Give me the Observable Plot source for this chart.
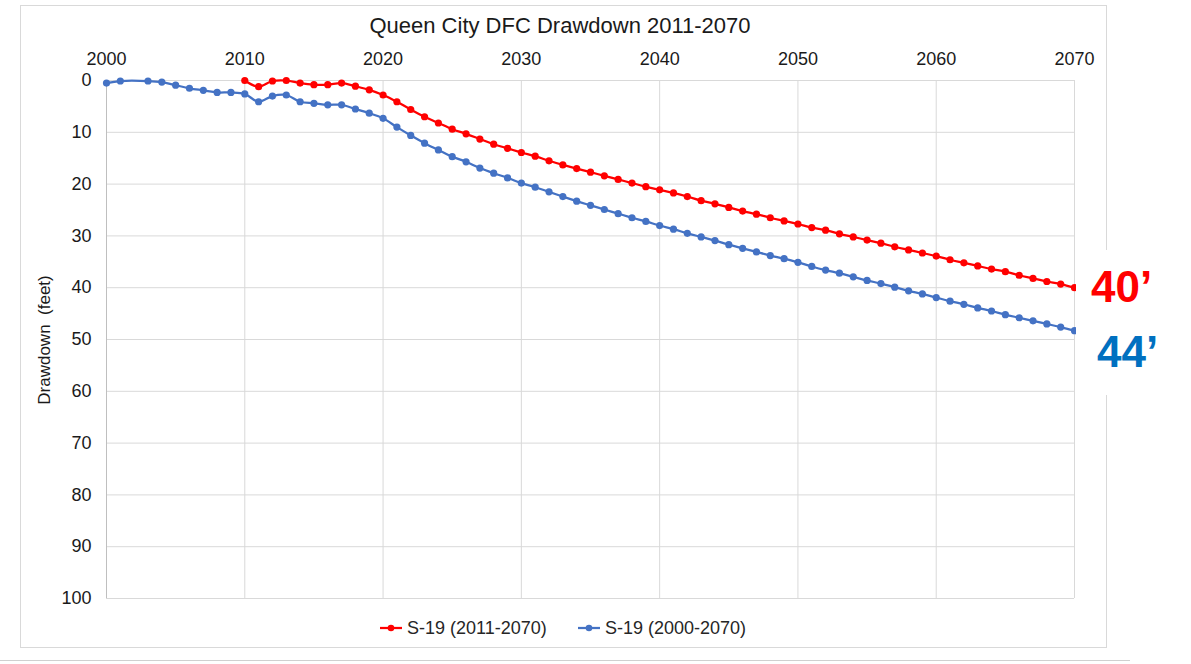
<!DOCTYPE html>
<html>
<head>
<meta charset="utf-8">
<script src="https://cdn.jsdelivr.net/npm/d3@7"></script>
<script src="https://cdn.jsdelivr.net/npm/@observablehq/plot@0.6"></script>
<style>
  html, body { margin: 0; padding: 0; background: #fff; }
  #wrap { position: relative; width: 1191px; height: 664px; overflow: hidden; font-family: "Liberation Sans", Arial, sans-serif; color: #404040; }
  #frame { position: absolute; left: 20px; top: 5px; width: 1087px; height: 643px; border: 1px solid #d9d9d9; box-sizing: border-box; }
  #slideLine { position: absolute; left: 0; top: 660px; width: 1130px; height: 0; border-top: 1px solid #d0d0d0; }
  #chart { position: absolute; left: 0; top: 0; }
  #title { position: absolute; left: 0; width: 1120px; top: 14px; text-align: center; font-size: 22px; line-height: 24px; color: #1a1a1a; }
  #ylabel { position: absolute; left: 45px; top: 340px; transform: translate(-50%, -50%) rotate(-90deg); font-size: 17px; white-space: pre; color: #1a1a1a; }
  #cover { position: absolute; left: 1076px; top: 250px; width: 115px; height: 145px; background: #fff; }
  .ann { position: absolute; font-weight: bold; font-size: 44px; line-height: 1; white-space: nowrap; }
  .leg { position: absolute; top: 618px; font-size: 18px; line-height: 20px; white-space: nowrap; color: #262626; display: flex; align-items: center; }
  .leg svg { margin-right: 4px; }
</style>
</head>
<body>
<div id="wrap">
  <div id="frame"></div>
  <div id="slideLine"></div>
  <div id="chart"></div>
  <div id="title"></div>
  <div id="ylabel"></div>
  <div id="cover"></div>
  <div id="ann1" class="ann"></div>
  <div id="ann2" class="ann"></div>
  <div id="leg1" class="leg"></div>
  <div id="leg2" class="leg"></div>
</div>
<script>
// ---- Data ----
const titleText = "Queen City DFC Drawdown 2011-2070";
const yLabelText = "Drawdown  (feet)";
const xTicks = [2000, 2010, 2020, 2030, 2040, 2050, 2060, 2070];
const yTicks = [0, 10, 20, 30, 40, 50, 60, 70, 80, 90, 100];

const redName = "S-19 (2011-2070)";
const redYears = [2010,2011,2012,2013,2014,2015,2016,2017,2018,2019,
  2020,2021,2022,2023,2024,2025,2026,2027,2028,2029,
  2030,2031,2032,2033,2034,2035,2036,2037,2038,2039,
  2040,2041,2042,2043,2044,2045,2046,2047,2048,2049,
  2050,2051,2052,2053,2054,2055,2056,2057,2058,2059,
  2060,2061,2062,2063,2064,2065,2066,2067,2068,2069,2070];
const redValues = [0.0,1.2,0.1,0.0,0.5,0.8,0.8,0.5,1.1,1.8,
  2.8,4.1,5.6,7.0,8.2,9.4,10.3,11.3,12.3,13.1,
  13.9,14.6,15.5,16.3,17.0,17.7,18.4,19.1,19.8,20.5,
  21.1,21.7,22.4,23.2,23.8,24.5,25.2,25.8,26.5,27.1,
  27.7,28.4,28.9,29.6,30.2,30.8,31.4,32.1,32.7,33.3,
  33.9,34.6,35.2,35.8,36.4,36.9,37.6,38.2,38.8,39.3,40.0];

const blueName = "S-19 (2000-2070)";
const blueYears = [2000,2001,2003,2004,2005,2006,2007,2008,2009,
  2010,2011,2012,2013,2014,2015,2016,2017,2018,2019,
  2020,2021,2022,2023,2024,2025,2026,2027,2028,2029,
  2030,2031,2032,2033,2034,2035,2036,2037,2038,2039,
  2040,2041,2042,2043,2044,2045,2046,2047,2048,2049,
  2050,2051,2052,2053,2054,2055,2056,2057,2058,2059,
  2060,2061,2062,2063,2064,2065,2066,2067,2068,2069,2070];
const blueValues = [0.5,0.1,0.1,0.3,0.9,1.5,1.9,2.3,2.3,
  2.6,4.1,3.0,2.8,4.1,4.4,4.7,4.7,5.5,6.3,
  7.3,9.0,10.6,12.1,13.4,14.7,15.7,16.9,17.9,18.8,
  19.8,20.6,21.5,22.4,23.3,24.1,24.9,25.7,26.5,27.2,
  28.0,28.7,29.5,30.2,30.9,31.7,32.4,33.1,33.8,34.4,
  35.1,35.9,36.6,37.2,37.9,38.6,39.2,39.9,40.6,41.2,
  41.9,42.6,43.2,43.9,44.5,45.2,45.8,46.4,47.0,47.6,48.3];

const annRed = "40’";
const annBlue = "44’";

const redColor = "#FF0000";
const blueColor = "#4472C4";
const annBlueColor = "#0070C0";

const red = redYears.map((y, i) => ({year: y, value: redValues[i]}));
const blue = blueYears.map((y, i) => ({year: y, value: blueValues[i]}));

const W = 1191;
const chart = Plot.plot({
  width: W,
  height: 610,
  marginLeft: 106,
  marginRight: W - 1074,
  marginTop: 80,
  marginBottom: 12,
  style: { fontFamily: "'Liberation Sans', Arial, sans-serif", fontSize: "18px", color: "#1a1a1a", background: "transparent", overflow: "visible" },
  x: { domain: [2000, 2070] },
  y: { domain: [0, 100], reverse: true },
  marks: [
    Plot.gridY(yTicks, { stroke: "#d9d9d9", strokeOpacity: 1, strokeWidth: 1 }),
    Plot.gridX(xTicks, { stroke: "#d9d9d9", strokeOpacity: 1, strokeWidth: 1 }),
    Plot.ruleX([2000], { stroke: "#bfbfbf", strokeWidth: 1 }),
    Plot.axisX(xTicks, { anchor: "top", tickFormat: d => String(d), tickSize: 0, tickPadding: 16, label: null, fontSize: 18 }),
    Plot.axisY(yTicks, { anchor: "left", tickSize: 0, tickPadding: 15, label: null, fontSize: 18 }),
    Plot.line(blue, { x: "year", y: "value", stroke: blueColor, strokeWidth: 2.25, curve: "catmull-rom" }),
    Plot.dot(blue, { x: "year", y: "value", fill: blueColor, r: 3.6, stroke: "none" }),
    Plot.line(red, { x: "year", y: "value", stroke: redColor, strokeWidth: 2.25, curve: "catmull-rom" }),
    Plot.dot(red, { x: "year", y: "value", fill: redColor, r: 3.6, stroke: "none" })
  ]
});
document.getElementById("chart").appendChild(chart);

document.getElementById("title").textContent = titleText;
document.getElementById("ylabel").textContent = yLabelText;

const a1 = document.getElementById("ann1");
a1.textContent = annRed; a1.style.color = redColor; a1.style.left = "1091px"; a1.style.top = "265px";
const a2 = document.getElementById("ann2");
a2.textContent = annBlue; a2.style.color = annBlueColor; a2.style.left = "1097px"; a2.style.top = "330px";

function swatch(color) {
  return `<svg width="24" height="12"><line x1="1" y1="6" x2="23" y2="6" stroke="${color}" stroke-width="2.25"/><circle cx="12" cy="6" r="3.3" fill="${color}"/></svg>`;
}
const l1 = document.getElementById("leg1");
l1.innerHTML = swatch(redColor) + `<span></span>`;
l1.querySelector("span").textContent = redName;
l1.style.left = "379px";
const l2 = document.getElementById("leg2");
l2.innerHTML = swatch(blueColor) + `<span></span>`;
l2.querySelector("span").textContent = blueName;
l2.style.left = "577px";
</script>
</body>
</html>
